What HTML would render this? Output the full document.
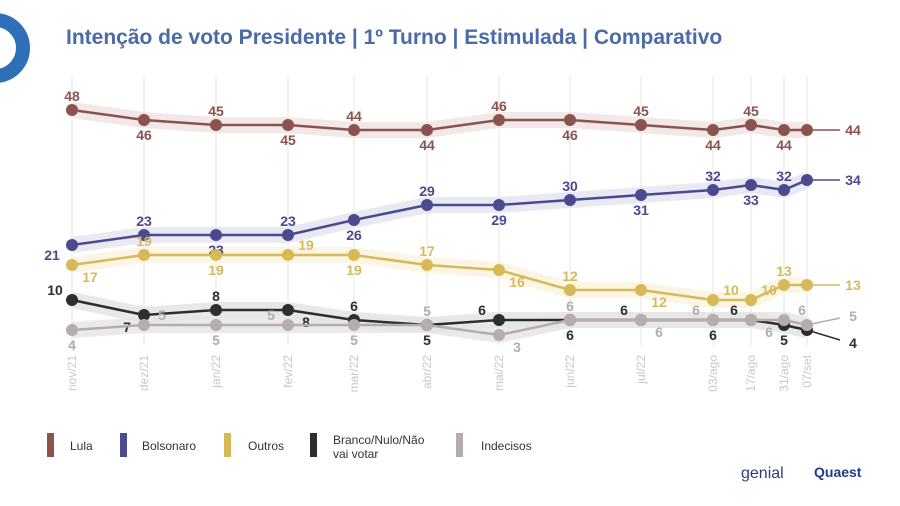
<!DOCTYPE html>
<html><head><meta charset="utf-8"><style>
body{margin:0;background:#fff;width:900px;height:501px;overflow:hidden;font-family:"Liberation Sans",sans-serif}
</style></head><body>
<svg id="c" width="900" height="501" viewBox="0 0 900 501" xmlns="http://www.w3.org/2000/svg">
<circle cx="-5" cy="48" r="28" fill="none" stroke="#2f6fb8" stroke-width="14"/>
<text x="66" y="44" font-size="21" font-weight="bold" fill="#4a6aa8">Intenção de voto Presidente | 1º Turno | Estimulada | Comparativo</text>
<g id="grid"></g><g id="series"></g><g id="xlabels"></g>
<g>
<rect x="47" y="433" width="7" height="24" fill="#8b534f"/>
<text x="70" y="450" font-size="12" fill="#333">Lula</text>
<rect x="120" y="433" width="7" height="24" fill="#4b4a8f"/>
<text x="142" y="450" font-size="12" fill="#333">Bolsonaro</text>
<rect x="224" y="433" width="7" height="24" fill="#d8b95a"/>
<text x="248" y="450" font-size="12" fill="#333">Outros</text>
<rect x="310" y="433" width="7" height="24" fill="#2e2e2e"/>
<text x="333" y="444" font-size="12" fill="#333">Branco/Nulo/Não<tspan x="333" dy="14">vai votar</tspan></text>
<rect x="456" y="433" width="7" height="24" fill="#b5adab"/>
<text x="481" y="450" font-size="12" fill="#333">Indecisos</text>
</g>
<text x="741" y="478" font-size="16" fill="#2a3f7a">genial</text>
<text x="814" y="477" font-size="14" font-weight="bold" fill="#1e3a8a">Quaest</text>
</svg>
<script>
const categories=["nov/21","dez/21","jan/22","fev/22","mar/22","abr/22","mai/22","jun/22","jul/22","03/ago","17/ago","31/ago","07/set"];
const catX=[72,144,216,288,354,427,499,570,641,713,751,784,807];
const lula=[48,46,45,45,44,44,46,46,45,44,45,44,44];
const bolsonaro=[21,23,23,23,26,29,29,30,31,32,33,32,34];
const outros=[17,19,19,19,19,17,16,12,12,10,10,13,13];
const branco=[10,7,8,8,6,5,6,6,6,6,6,5,4];
const indecisos=[4,5,5,5,5,5,3,6,6,6,6,6,5];
const NS="http://www.w3.org/2000/svg";
function y(v){return 130+(44-v)*5;}
function x(i){return catX[i];}
function mk(t,a,p){const e=document.createElementNS(NS,t);for(const k in a)e.setAttribute(k,a[k]);p.appendChild(e);return e;}
const grid=document.getElementById('grid'),xl=document.getElementById('xlabels'),sg=document.getElementById('series');
categories.forEach((c,i)=>{
 const l=mk('line',{x1:x(i),x2:x(i),y1:76,y2:345,stroke:'#e6e6e6','stroke-width':1},grid);
 
 
 const t=mk('text',{x:0,y:0,'font-size':12,fill:'#c8c8c8','text-anchor':'end',transform:`translate(${x(i)+4},355) rotate(-90)`},xl);
 t.textContent=c;
 
 
});
// label placement codes: a=above, b=below, l=left, ar/br=right above/below, al/bl=left above/below
const OFF={a:[0,-9],b:[0,20],l:[-20,15],ar:[18,-5],br:[18,17],al:[-17,-5],bl:[-17,17]};
const defs=[
 {name:'lula',data:lula,col:'#8b534f',band:'#efe2e2',side:['a','b','a','b','a','b','a','b','a','b','a','b'],end:0},
 {name:'bolsonaro',data:bolsonaro,col:'#4b4a8f',band:'#e4e4f0',side:['l','a','b','a','b','a','b','a','b','a','b','a'],end:0},
 {name:'outros',data:outros,col:'#d8b95a',band:'#faf3dc',side:['br','a','b','ar','b','a','br','a','br','ar','ar','a'],end:0},
 {name:'branco',data:branco,col:'#2e2e2e',band:'#e2e2e2',side:['al','bl','a','br','a','b','al','b','al','b','al','b'],end:10},
 {name:'indecisos',data:indecisos,col:'#b5adab',band:'#e6e4e4',side:['b','ar','b','al','b','a','br','a','br','al','br','ar'],end:-7}
];
defs.forEach(s=>{
 const pts=s.data.map((v,i)=>x(i)+','+y(v)).join(' ');
 const b=mk('polyline',{points:pts,fill:'none',stroke:s.band,'stroke-width':16,'stroke-linejoin':'round',opacity:0.8},sg);
 
 
});
defs.forEach(s=>{
 const n=s.data.length,last=s.data[n-1];
 const pts=s.data.map((v,i)=>x(i)+','+y(v)).join(' ');
 const ext=mk('line',{x1:x(n-1),y1:y(last),x2:840,y2:y(last)+s.end,stroke:s.col,'stroke-width':1.5},sg);
 
 
 const pl=mk('polyline',{points:pts,fill:'none',stroke:s.col,'stroke-width':2.5},sg);
 
 
 s.data.forEach((v,i)=>{
  const c=mk('circle',{cx:x(i),cy:y(v),r:6,fill:s.col},sg);
  
  
  if(i<n-1){
   const o=OFF[s.side[i]];
   const t=mk('text',{x:x(i)+o[0],y:y(v)+o[1],'font-size':14,'font-weight':'bold',fill:s.col,'text-anchor':'middle'},sg);
   t.textContent=v;
   
   
  }
 });
 const e=mk('text',{x:853,y:y(last)+5+s.end*1.3,'font-size':14,'font-weight':'bold',fill:s.col,'text-anchor':'middle'},sg);
 e.textContent=last;
 
 
});
</script>
</body></html>
